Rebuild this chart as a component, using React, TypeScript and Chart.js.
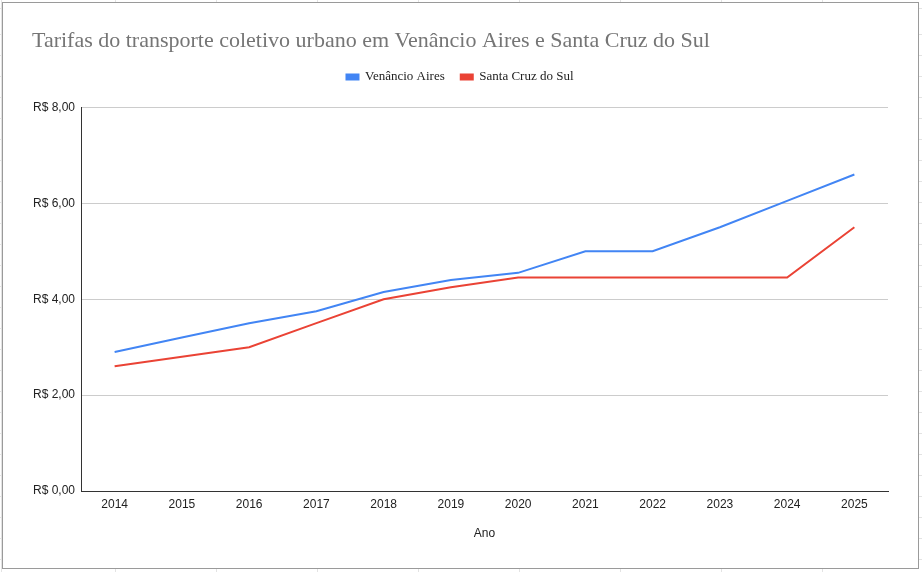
import React, { useEffect, useRef } from "react";
import { Chart, registerables } from "chart.js";

Chart.register(...registerables);

const titleText = "Tarifas do transporte coletivo urbano em Venâncio Aires e Santa Cruz do Sul";
const xAxisTitle = "Ano";
const years = ["2014", "2015", "2016", "2017", "2018", "2019", "2020", "2021", "2022", "2023", "2024", "2025"];
const venancioAires = [2.9, 3.2, 3.5, 3.75, 4.15, 4.4, 4.55, 5.0, 5.0, 5.5, 6.05, 6.6];
const santaCruz = [2.6, 2.8, 3.0, 3.5, 4.0, 4.25, 4.45, 4.45, 4.45, 4.45, 4.45, 5.5];
const yTicks = [0, 2, 4, 6, 8];

const W = 922;
const H = 572;

export default function App() {
  const ref = useRef<HTMLCanvasElement | null>(null);

  useEffect(() => {
    document.body.style.margin = "0";
    const canvas = ref.current;
    if (!canvas) return;

    const legendSpacer = {
      id: "legendSpacer",
      beforeInit(chart: any) {
        if (!chart.legend) return;
        const orig = chart.legend.fit;
        chart.legend.fit = function () {
          orig.call(this);
          this.height += 14;
        };
      },
    };

    const chart = new Chart(canvas, {
      type: "line",
      data: {
        labels: years,
        datasets: [
          {
            label: "Venâncio Aires",
            data: venancioAires,
            borderColor: "#4285F4",
            backgroundColor: "#4285F4",
            borderWidth: 2,
            pointRadius: 0,
            tension: 0,
          },
          {
            label: "Santa Cruz do Sul",
            data: santaCruz,
            borderColor: "#EA4335",
            backgroundColor: "#EA4335",
            borderWidth: 2,
            pointRadius: 0,
            tension: 0,
          },
        ],
      },
      options: {
        animation: false,
        responsive: false,
        maintainAspectRatio: false,
        layout: { padding: { left: 32, right: 34, top: 0, bottom: 0 } },
        plugins: {
          title: {
            display: true,
            text: titleText,
            align: "start",
            color: "#757575",
            font: { family: "'Liberation Serif', 'DejaVu Serif', serif", size: 22, weight: "normal" },
            padding: { top: 28, bottom: 0 },
          },
          legend: {
            display: true,
            position: "top",
            align: "center",
            labels: {
              boxWidth: 12,
              boxHeight: 5,
              padding: 16,
              color: "#222222",
              font: { family: "'Liberation Serif', 'DejaVu Serif', serif", size: 13 },
            },
          },
          tooltip: { enabled: false },
        },
        scales: {
          x: {
            type: "category",
            offset: true,
            grid: { display: false, drawTicks: false },
            border: { display: true, color: "#333333", width: 1 },
            ticks: {
              color: "#222222",
              padding: 6,
              maxRotation: 0,
              font: { family: "'Liberation Sans', Arial, sans-serif", size: 12 },
            },
            title: {
              display: true,
              text: xAxisTitle,
              color: "#222222",
              font: { family: "'Liberation Sans', Arial, sans-serif", size: 12 },
              padding: { top: 0, bottom: 31 },
            },
            afterFit(scale: any) {
              scale.height = 81;
            },
          },
          y: {
            min: 0,
            max: 8,
            afterBuildTicks(scale: any) {
              scale.ticks = yTicks.map((v) => ({ value: v }));
            },
            grid: { color: "#cccccc", drawTicks: false, lineWidth: 1 },
            border: { display: true, color: "#333333", width: 1 },
            ticks: {
              color: "#222222",
              padding: 6,
              font: { family: "'Liberation Sans', Arial, sans-serif", size: 12 },
              callback: (v: any) => "R$ " + Number(v).toFixed(2).replace(".", ","),
            },
            afterFit(scale: any) {
              scale.width = 49;
            },
          },
        },
      },
      plugins: [legendSpacer],
    });

    return () => chart.destroy();
  }, []);

  const gridBg =
    "repeating-linear-gradient(to right, transparent 0px, transparent 100px, #e3e3e3 100px, #e3e3e3 101px)," +
    "repeating-linear-gradient(to bottom, transparent 0px, transparent 20px, #e3e3e3 20px, #e3e3e3 21px)";

  return (
    <div
      style={{
        position: "fixed",
        left: 0,
        top: 0,
        width: W,
        height: H,
        background: "#ffffff",
        backgroundImage: gridBg,
        backgroundPosition: "15px 0px, 0px 14px",
        overflow: "hidden",
      }}
    >
      <div
        style={{
          position: "absolute",
          left: 2,
          top: 2,
          width: 915,
          height: 565,
          border: "1px solid #9a9a9a",
          background: "#ffffff",
        }}
      />
      <canvas ref={ref} width={W} height={H} style={{ position: "absolute", left: 0, top: 0, width: W, height: H }} />
    </div>
  );
}
